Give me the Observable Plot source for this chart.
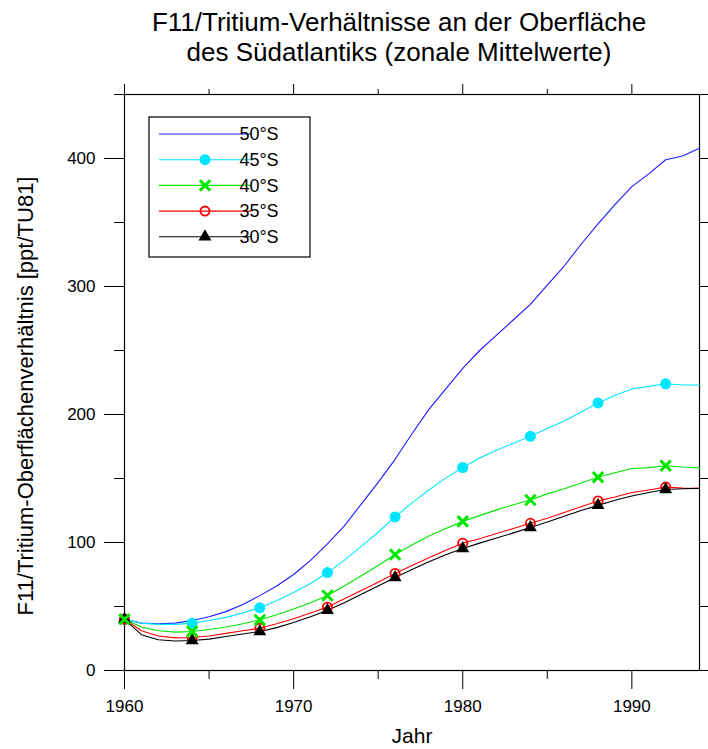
<!DOCTYPE html>
<html>
<head>
<meta charset="utf-8">
<script src="https://cdn.jsdelivr.net/npm/d3@7"></script>
<script src="https://cdn.jsdelivr.net/npm/@observablehq/plot@0.6"></script>
<style>
  html, body { margin: 0; padding: 0; background: #fff; }
  body { position: relative; width: 708px; height: 749px; overflow: hidden; font-family: "Liberation Sans", Arial, sans-serif; }
  #title { position: absolute; left: 90px; top: 7px; width: 618px; text-align: center; font-size: 26px; line-height: 30px; color: #000; }
  #chart { position: absolute; left: 0; top: 0; }
</style>
</head>
<body>
<div id="chart"></div>
<div id="title">F11/Tritium-Verhältnisse an der Oberfläche<br>des Südatlantiks (zonale Mittelwerte)</div>
<script>
// Zonal mean F11/tritium ratios at the South Atlantic surface, 1960–1994
const years = [1960, 1961, 1962, 1963, 1964, 1965, 1966, 1967, 1968, 1969,
               1970, 1971, 1972, 1973, 1974, 1975, 1976, 1977, 1978, 1979,
               1980, 1981, 1982, 1983, 1984, 1985, 1986, 1987, 1988, 1989,
               1990, 1991, 1992, 1993, 1994];

const s50 = [40, 37, 36.5, 37, 39, 42, 46, 51.5, 58.5, 66,
             75, 86, 99, 113, 130, 147, 165, 185, 204, 220,
             236, 250, 262, 274, 286, 301, 316, 333, 349, 364,
             378, 388, 399, 402, 408];
const s45 = [40, 37, 36, 36, 37, 39, 41.5, 45, 49, 54.5,
             61, 68, 76.5, 86, 97, 108, 120, 131, 141, 150.5,
             158.6, 166, 172, 177.5, 183, 189, 195, 202, 209, 215,
             220, 222, 224, 223, 223];
const s40 = [40, 34, 31, 30, 30.5, 32, 34, 36.5, 39.5, 43.5,
             48, 53, 58.6, 66, 74, 82, 90.6, 98, 105, 111,
             116.5, 121, 125.5, 129.5, 133.2, 138, 142, 146.5, 151, 154.5,
             157.8, 158.5, 160, 159, 158.3];
const s35 = [40, 31, 27, 25.5, 25.8, 27, 29, 31, 33, 36.5,
             40.5, 45, 49.5, 56, 62.5, 69, 75.8, 82, 88, 94,
             99.5, 103, 107, 111, 115, 119, 123.5, 128, 132.5, 135.5,
             139, 141, 143.3, 142.5, 142.3];
const s30 = [40, 28, 24, 23, 23.4, 24.5, 26.5, 28.5, 30.5, 33.5,
             37.5, 42, 47, 53, 59.5, 66, 72.6, 79, 85, 90.5,
             95.3, 99.5, 103.5, 107.5, 111.7, 116, 120.5, 125, 129, 133,
             136.3, 139, 141.4, 142, 142.3];

const seriesNames = ["50°S", "45°S", "40°S", "35°S", "30°S"];
const seriesValues = [s50, s45, s40, s35, s30];
const seriesColors = ["#1a1aff", "#00e5ff", "#00e600", "#ff0000", "#000000"];
const markerEvery = 4; // a symbol every fourth year, starting 1960

const xMajor = [1960, 1970, 1980, 1990];
const xMinor = [1965, 1975, 1985];
const yMajor = [0, 100, 200, 300, 400];
const yMinor = [50, 150, 250, 350, 450];

const yLabel = "F11/Tritium-Oberflächenverhältnis [ppt/TU81]";

// long-format table
const rows = seriesNames.flatMap((name, i) =>
  years.map((year, j) => ({series: name, year, value: seriesValues[i][j], idx: j})));
const bySeries = name => rows.filter(d => d.series === name);
const markersOf = name => bySeries(name).filter(d => d.idx % markerEvery === 0);

// symbol styles per series
const symbolStyle = {
  "45°S": {symbol: "circle", r: 5.5, fill: "#00e5ff", stroke: "none"},
  "40°S": {symbol: "times", r: 4.8, fill: "none", stroke: "#00e600", strokeWidth: 3},
  "35°S": {symbol: "circle", r: 4.6, fill: "none", stroke: "#ff0000", strokeWidth: 1.8},
  "30°S": {symbol: "triangle", r: 4.8, fill: "#000000", stroke: "none"}
};
const markerOrder = ["45°S", "35°S", "30°S", "40°S"];

const noText = () => "";

const chart = Plot.plot({
  width: 708,
  height: 749,
  marginTop: 94,
  marginBottom: 79,
  marginLeft: 124,
  marginRight: 9,
  style: {fontFamily: "'Liberation Sans', Arial, sans-serif", background: "#fff", color: "#000"},
  x: {domain: [1960, 1994]},
  y: {domain: [0, 450]},
  marks: [
    // frame
    Plot.frame({stroke: "#000", strokeWidth: 1.2}),
    // bottom axis
    Plot.axisX({anchor: "bottom", ticks: xMajor, tickSize: 19, tickPadding: 10, tickFormat: d3.format("d"),
      fontSize: 17, label: "Jahr", labelAnchor: "center", labelArrow: "none", labelOffset: 72}),
    Plot.axisX({anchor: "bottom", ticks: xMinor, tickSize: 9, tickFormat: noText, label: null}),
    // top axis
    Plot.axisX({anchor: "top", ticks: xMajor, tickSize: 11, tickFormat: noText, label: null}),
    Plot.axisX({anchor: "top", ticks: xMinor, tickSize: 6, tickFormat: noText, label: null}),
    // left axis
    Plot.axisY({anchor: "left", ticks: yMajor, tickSize: 20, tickPadding: 9, fontSize: 17, label: null}),
    Plot.axisY({anchor: "left", ticks: yMinor, tickSize: 10, tickFormat: noText, label: null}),
    // right axis
    Plot.axisY({anchor: "right", ticks: yMajor, tickSize: 12, tickFormat: noText, label: null}),
    Plot.axisY({anchor: "right", ticks: yMinor, tickSize: 10, tickFormat: noText, label: null}),
    // curves
    ...seriesNames.map((name, i) =>
      Plot.line(bySeries(name), {x: "year", y: "value", stroke: seriesColors[i], strokeWidth: 1.1})),
    // symbols
    ...markerOrder.map(name =>
      Plot.dot(markersOf(name), {x: "year", y: "value", ...symbolStyle[name]}))
  ]
});

// x-axis label size
d3.select(chart).selectAll("[aria-label='x-axis label'] text").style("font-size", "21px");

document.getElementById("chart").append(chart);

const svg = d3.select(chart);

// vertical axis title
svg.append("text")
  .attr("transform", "translate(25,396) rotate(-90)")
  .attr("text-anchor", "middle").attr("dy", "0.35em")
  .attr("font-size", 22).attr("fill", "#000")
  .text(yLabel);

// legend box in the upper left of the plotting area
const lg = svg.append("g").attr("class", "legend").attr("transform", "translate(149,117)");
lg.append("rect").attr("width", 161).attr("height", 140)
  .attr("fill", "#fff").attr("stroke", "#000").attr("stroke-width", 1.2);
const symbolPath = {
  circle: d3.symbolCircle, times: d3.symbolTimes, triangle: d3.symbolTriangle
};
seriesNames.forEach((name, i) => {
  const yRow = 17 + i * 25.7;
  const row = lg.append("g").attr("transform", `translate(0,${yRow})`);
  row.append("line").attr("x1", 10).attr("x2", 102).attr("y1", 0).attr("y2", 0)
    .attr("stroke", seriesColors[i]).attr("stroke-width", 1.1);
  const st = symbolStyle[name];
  if (st) {
    const size = Math.PI * st.r * st.r;
    row.append("path").attr("transform", "translate(56,0)")
      .attr("d", d3.symbol(symbolPath[st.symbol], size)())
      .attr("fill", st.fill).attr("stroke", st.stroke)
      .attr("stroke-width", st.strokeWidth || null);
  }
  row.append("text").attr("x", 110).attr("y", 0).attr("dy", "0.35em")
    .attr("font-size", 18).attr("fill", "#000").text(name);
});
</script>
</body>
</html>
